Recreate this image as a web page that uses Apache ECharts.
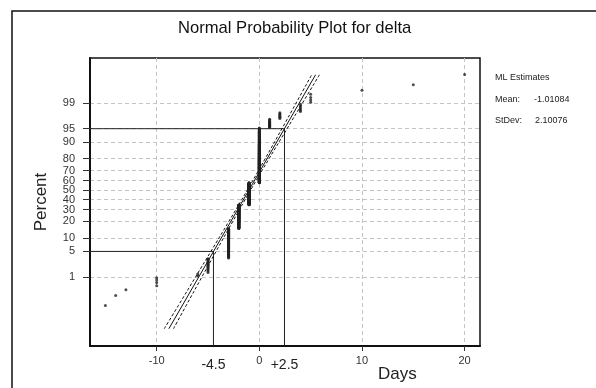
<!DOCTYPE html>
<html>
<head>
<meta charset="utf-8">
<script src="https://cdn.jsdelivr.net/npm/echarts@6/dist/echarts.min.js"></script>
<style>
  html, body { margin: 0; padding: 0; background: #fff; }
  #chart-container { width: 596px; height: 388px; }
</style>
</head>
<body>
<div id="chart-container"></div>
<script>
// observed delta values (days) and how many times each occurs
const dayValues = [-15, -14, -13, -10, -6, -5, -3, -2, -1, 0, 1, 2, 4, 5, 10, 15, 20];
const dayCounts = [1, 1, 1, 4, 2, 15, 84, 140, 166, 269, 14, 7, 6, 4, 1, 1, 1];

// percent tick labels on the probability axis
const percentTicks = [1, 5, 10, 20, 30, 40, 50, 60, 70, 80, 90, 95, 99];
const dayTicks = [-10, 0, 10, 20];

// fitted normal line and its confidence band (days at percent)
const fitPct = [0.01, 99.9];
const fitDays = [-8.82, 5.48];
const bandPct = [0.01, 0.1, 1, 5, 20, 50, 80, 95, 99, 99.9];
const bandLow = [-9.27, -7.88, -6.21, -4.72, -2.97, -1.17, 0.57, 2.2, 3.57, 5.1];
const bandHigh = [-8.37, -7.12, -5.59, -4.22, -2.59, -0.85, 0.95, 2.7, 4.19, 5.86];

// 5% / 95% reference points
const refPct = [5, 95];
const refDays = [-4.47, 2.45];
const refLabels = ["-4.5", "+2.5"];

const estimates = { mean: "-1.01084", stdev: "2.10076" };

// inverse standard normal cdf (Acklam) for the probability scale
function normInv(p) {
  const a = [-39.69683028665376, 220.9460984245205, -275.9285104469687, 138.357751867269, -30.66479806614716, 2.506628277459239];
  const b = [-54.47609879822406, 161.5858368580409, -155.6989798598866, 66.80131188771972, -13.28068155288572];
  const c = [-0.007784894002430293, -0.3223964580411365, -2.400758276161838, -2.549732539343734, 4.374664141464968, 2.938163982698783];
  const d = [0.007784695709041462, 0.3224671290700398, 2.445134137142996, 3.754408661907416];
  const pl = 0.02425;
  let q, r;
  if (p < pl) {
    q = Math.sqrt(-2 * Math.log(p));
    return (((((c[0] * q + c[1]) * q + c[2]) * q + c[3]) * q + c[4]) * q + c[5]) / ((((d[0] * q + d[1]) * q + d[2]) * q + d[3]) * q + 1);
  }
  if (p > 1 - pl) {
    q = Math.sqrt(-2 * Math.log(1 - p));
    return -(((((c[0] * q + c[1]) * q + c[2]) * q + c[3]) * q + c[4]) * q + c[5]) / ((((d[0] * q + d[1]) * q + d[2]) * q + d[3]) * q + 1);
  }
  q = p - 0.5;
  r = q * q;
  return (((((a[0] * r + a[1]) * r + a[2]) * r + a[3]) * r + a[4]) * r + a[5]) * q / (((((b[0] * r + b[1]) * r + b[2]) * r + b[3]) * r + b[4]) * r + 1);
}
const zOf = (pct) => normInv(pct / 100);

// median rank plotting positions
const n = dayCounts.reduce((s, c) => s + c, 0);
const points = [];
let rank = 0;
dayValues.forEach((day, k) => {
  for (let j = 0; j < dayCounts[k]; j++) {
    rank++;
    points.push([day, normInv((rank - 0.3) / (n + 0.4))]);
  }
});

const xMin = -16.5, xMax = 21.5;
const zMin = -4.18, zMax = 3.54;
const zTicks = percentTicks.map(zOf);

const refSeries = refPct.map((p, k) => ({
  type: "line",
  data: [[xMin, zOf(p)], [refDays[k], zOf(p)], [refDays[k], zMin]],
  symbol: "none",
  silent: true,
  lineStyle: { color: "#222", width: 1 },
  z: 3,
}));

const bandStyle = { color: "#111", width: 1, type: [3, 2] };
const font = "Liberation Sans, Arial, sans-serif";

let option = {
  animation: false,
  textStyle: { fontFamily: font },
  title: {
    text: "Normal Probability Plot for delta",
    left: 173,
    top: 15,
    textStyle: { fontSize: 16.6, fontWeight: "normal", color: "#111" },
  },
  grid: {
    left: 90,
    right: 116,
    top: 58,
    bottom: 42,
    show: true,
    borderColor: "#111",
    borderWidth: 1.5,
  },
  xAxis: {
    type: "value",
    min: xMin,
    max: xMax,
    axisLine: { onZero: false, lineStyle: { color: "#111", width: 2 } },
    axisTick: { customValues: dayTicks, length: 5, lineStyle: { color: "#333" } },
    splitLine: { show: true, lineStyle: { color: "#c4c4c4", type: [4, 3] } },
    axisLabel: {
      customValues: dayTicks.concat(refDays),
      margin: 9,
      fontSize: 11,
      color: "#333",
      formatter: (v) => {
        const k = refDays.indexOf(v);
        return k >= 0 ? "{big|" + refLabels[k] + "}" : String(v);
      },
      rich: { big: { fontSize: 14, color: "#222", padding: [3, 0, 0, 0] } },
    },
  },
  yAxis: {
    type: "value",
    min: zMin,
    max: zMax,
    name: "Percent",
    nameLocation: "middle",
    nameGap: 40,
    nameTextStyle: { fontSize: 17, color: "#222" },
    axisLine: { onZero: false, lineStyle: { color: "#111", width: 2 } },
    axisTick: { customValues: zTicks, length: 7, lineStyle: { color: "#333" } },
    splitLine: { show: true, lineStyle: { color: "#c4c4c4", type: [4, 3] } },
    axisLabel: {
      customValues: zTicks,
      margin: 15,
      fontSize: 11,
      color: "#333",
      formatter: (v) => {
        let best = 0;
        zTicks.forEach((z, k) => { if (Math.abs(z - v) < Math.abs(zTicks[best] - v)) best = k; });
        return String(percentTicks[best]);
      },
    },
  },
  graphic: [
    { type: "rect", shape: { x: 12, y: 11, width: 620, height: 420 }, style: { fill: "none", stroke: "#111", lineWidth: 1.5 }, silent: true },
    { type: "text", left: 378, top: 366, style: { text: "Days", fontSize: 17, fill: "#222", fontFamily: font } },
    { type: "text", left: 495, top: 73, style: { text: "ML Estimates", fontSize: 9, fill: "#222", fontFamily: font } },
    { type: "text", left: 495, top: 95, style: { text: "Mean:", fontSize: 9, fill: "#222", fontFamily: font } },
    { type: "text", left: 534, top: 95, style: { text: estimates.mean, fontSize: 9, fill: "#222", fontFamily: font } },
    { type: "text", left: 495, top: 116, style: { text: "StDev:", fontSize: 9, fill: "#222", fontFamily: font } },
    { type: "text", left: 535, top: 116, style: { text: estimates.stdev, fontSize: 9, fill: "#222", fontFamily: font } },
  ],
  series: [
    {
      type: "line",
      data: fitDays.map((d, k) => [d, zOf(fitPct[k])]),
      symbol: "none",
      silent: true,
      lineStyle: { color: "#111", width: 1 },
      z: 4,
    },
    {
      type: "line",
      data: bandLow.map((d, k) => [d, zOf(bandPct[k])]),
      symbol: "none",
      smooth: true,
      silent: true,
      lineStyle: bandStyle,
      z: 4,
    },
    {
      type: "line",
      data: bandHigh.map((d, k) => [d, zOf(bandPct[k])]),
      symbol: "none",
      smooth: true,
      silent: true,
      lineStyle: bandStyle,
      z: 4,
    },
    ...refSeries,
    {
      type: "scatter",
      data: points,
      symbolSize: 3,
      itemStyle: { color: "#222" },
      silent: true,
      z: 5,
    },
  ],
};

const paintChart = () => {
  let dom = document.getElementById("chart-container");
  let myChart = echarts.init(dom, null, { renderer: "canvas" });
  if (option && typeof option === "object") {
    myChart.setOption(option);
  }
  window.addEventListener("resize", () => myChart.resize());
};
paintChart();
</script>
</body>
</html>
